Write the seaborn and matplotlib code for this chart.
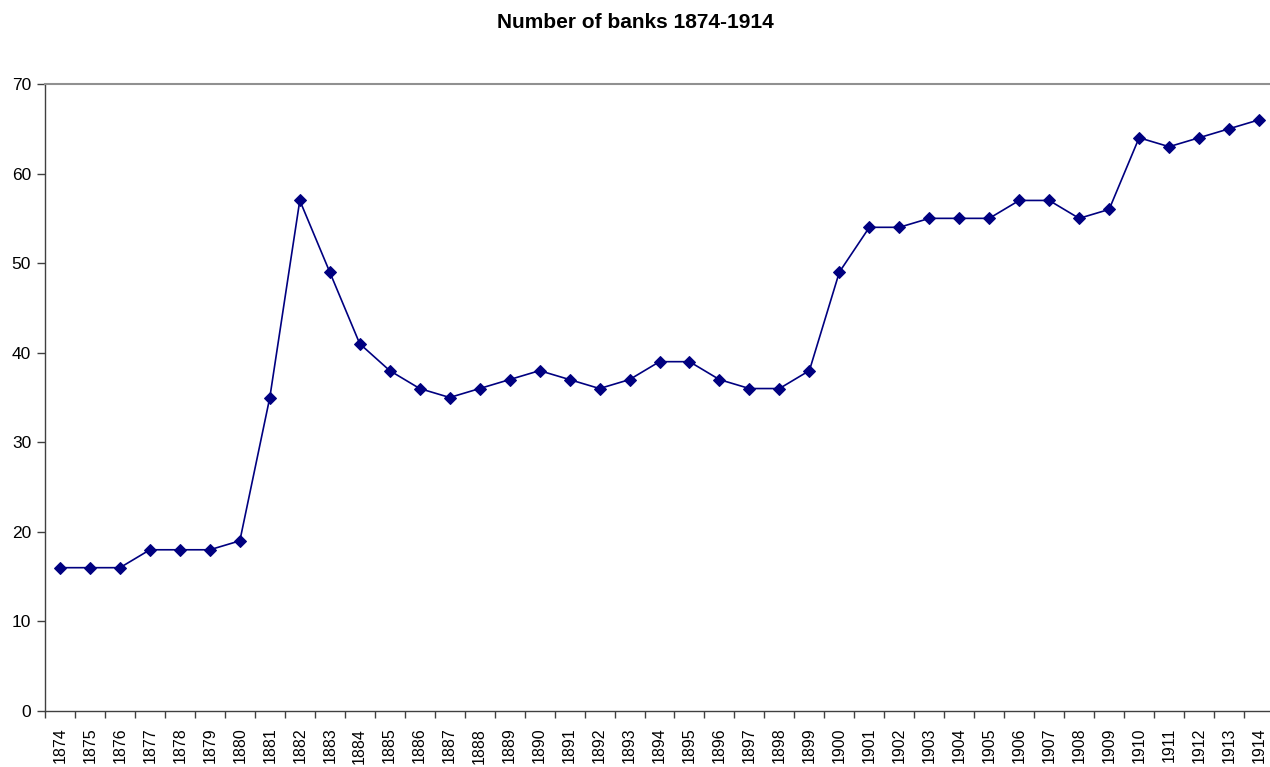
import numpy as np
import pandas as pd
import matplotlib
matplotlib.use('Agg')
import matplotlib.pyplot as plt
import seaborn as sns

# data
years = list(range(1874, 1915))
banks = [16, 16, 16, 18, 18, 18, 19, 35, 57, 49,
         41, 38, 36, 35, 36, 37, 38, 37, 36, 37,
         39, 39, 37, 36, 36, 38, 49, 54, 54, 55,
         55, 55, 57, 57, 55, 56, 64, 63, 64, 65, 66]
yticks = [0, 10, 20, 30, 40, 50, 60, 70]

df = pd.DataFrame({'pos': np.arange(len(years)), 'year': years, 'banks': banks})

sns.set_style('white')
plt.rcParams['font.family'] = ['Liberation Sans', 'DejaVu Sans']
plt.rcParams['text.color'] = 'black'
plt.rcParams['xtick.color'] = 'black'
plt.rcParams['ytick.color'] = 'black'

fig = plt.figure(figsize=(12.7, 7.67), dpi=100)
fig.patch.set_facecolor('white')
W, H = 1270, 767
ax = fig.add_axes([45 / W, (H - 711) / H, (1274 - 45) / W, (711 - 84) / H])

sns.lineplot(data=df, x='pos', y='banks', ax=ax, color='#000080',
             marker='D', markersize=6.5, markeredgecolor='#000080',
             linewidth=1.2)

ax.set_xlim(-0.5, len(years) - 0.5)
ax.set_ylim(0, 70)

# category labels centred, tick marks between categories
ax.set_xticks(df['pos'])
ax.set_xticklabels([str(y) for y in years], rotation=90, fontsize=11.5)
ax.set_xticks(np.arange(-0.5, len(years), 1.0), minor=True)
ax.tick_params(axis='x', which='major', bottom=True, length=0, pad=12)
ax.tick_params(axis='x', which='minor', bottom=True, length=5, width=1,
               color='#404040', direction='out')

ax.set_yticks(yticks)
ax.tick_params(axis='y', which='major', left=True, length=6, width=1,
               color='#404040', direction='out', labelsize=12.5, pad=4)

ax.spines['right'].set_visible(False)
ax.spines['top'].set_color('#909090')
ax.spines['top'].set_linewidth(1.5)
for s in ['left', 'bottom']:
    ax.spines[s].set_color('#404040')
    ax.spines[s].set_linewidth(1)

ax.set_xlabel('')
ax.set_ylabel('')
fig.text(0.5, 1 - 22 / H, 'Number of banks 1874-1914', ha='center', va='center',
         fontsize=15, fontweight='bold')

plt.savefig('out.png', dpi=100)
plt.close()
